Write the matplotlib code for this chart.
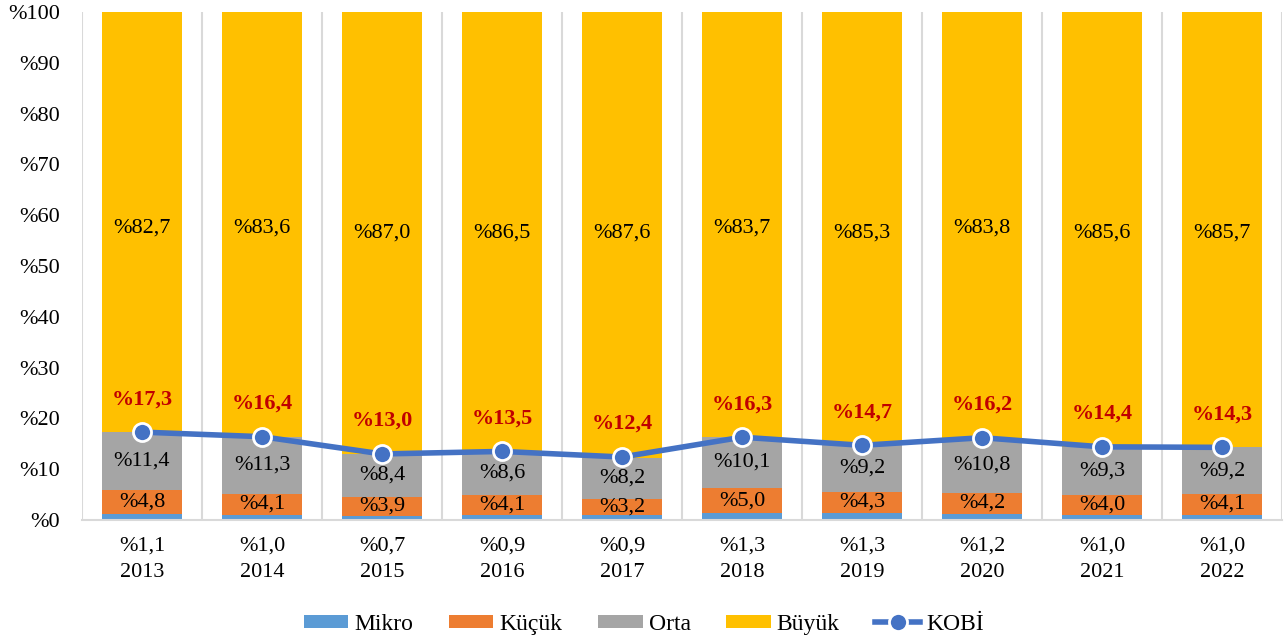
import numpy as np
import matplotlib.pyplot as plt

years = ['2013', '2014', '2015', '2016', '2017', '2018', '2019', '2020', '2021', '2022']
mikro = [1.1, 1.0, 0.7, 0.9, 0.9, 1.3, 1.3, 1.2, 1.0, 1.0]
kucuk = [4.8, 4.1, 3.9, 4.1, 3.2, 5.0, 4.3, 4.2, 4.0, 4.1]
orta = [11.4, 11.3, 8.4, 8.6, 8.2, 10.1, 9.2, 10.8, 9.3, 9.2]
buyuk = [82.7, 83.6, 87.0, 86.5, 87.6, 83.7, 85.3, 83.8, 85.6, 85.7]
kobi = [17.3, 16.4, 13.0, 13.5, 12.4, 16.3, 14.7, 16.2, 14.4, 14.3]

def tr(v):
    return '%' + '{:.1f}'.format(v).replace('.', ',')

plt.rcParams['font.family'] = ['Liberation Serif', 'DejaVu Serif']
fs = 16

fig = plt.figure(figsize=(12.87, 6.4), dpi=100)
ax = fig.add_axes([82 / 1287, 120 / 640, 1200 / 1287, 508 / 640])

x = np.arange(len(years))
w = 0.67
b1 = np.array(mikro)
b2 = b1 + np.array(kucuk)
b3 = b2 + np.array(orta)

ax.bar(x, mikro, w, color='#5B9BD5', label='Mikro', zorder=2)
ax.bar(x, kucuk, w, bottom=b1, color='#ED7D31', label='Küçük', zorder=2)
ax.bar(x, orta, w, bottom=b2, color='#A5A5A5', label='Orta', zorder=2)
# Büyük fills the rest of the 100% column
ax.bar(x, 100 - b3, w, bottom=b3, color='#FFC000', label='Büyük', zorder=2)
ax.plot(x, kobi, color='#4472C4', lw=4, marker='o', ms=13,
        markerfacecolor='#4472C4', markeredgecolor='white', markeredgewidth=2,
        label='KOBİ', zorder=4)

for i in range(len(years)):
    ax.text(x[i], b1[i] + kucuk[i] / 2, tr(kucuk[i]), ha='center', va='center', fontsize=fs, zorder=3)
    ax.text(x[i], b2[i] + orta[i] / 2, tr(orta[i]), ha='center', va='center', fontsize=fs, zorder=3)
    ax.text(x[i], 57.5 if buyuk[i] < 84 else 56.5, tr(buyuk[i]), ha='center', va='center', fontsize=fs, zorder=3)
    ax.text(x[i], kobi[i] + 6.5, tr(kobi[i]), ha='center', va='center', fontsize=fs,
            color='#C00000', fontweight='bold', zorder=5)

ax.set_xlim(-0.5, len(years) - 0.5)
ax.set_ylim(0, 100)
ax.set_yticks(np.arange(0, 101, 10))
ax.set_yticklabels(['%' + str(v) for v in range(0, 101, 10)], fontsize=fs)
ax.set_xticks(x)
ax.set_xticklabels([tr(m) + '\n' + y for m, y in zip(mikro, years)], fontsize=fs, linespacing=1.55)
ax.tick_params(length=0, pad=12)
ax.tick_params(axis='y', pad=16)

for b in np.arange(-0.5, len(years), 1.0):
    ax.axvline(b, color='#D9D9D9', lw=1.5, zorder=1)
for s in ['top', 'right', 'left']:
    ax.spines[s].set_visible(False)
ax.spines['bottom'].set_color('#D9D9D9')
ax.spines['bottom'].set_linewidth(1.5)

handles, labels = ax.get_legend_handles_labels()
order = [labels.index(n) for n in ['Mikro', 'Küçük', 'Orta', 'Büyük', 'KOBİ']]
fig.legend([handles[k] for k in order], [labels[k] for k in order],
           loc='lower center', ncol=5, frameon=False, fontsize=fs + 1,
           bbox_to_anchor=(0.5, -0.025), handlelength=1.9, handleheight=0.5,
           columnspacing=1.5, handletextpad=0.25)

fig.savefig('out.png', dpi=100)
